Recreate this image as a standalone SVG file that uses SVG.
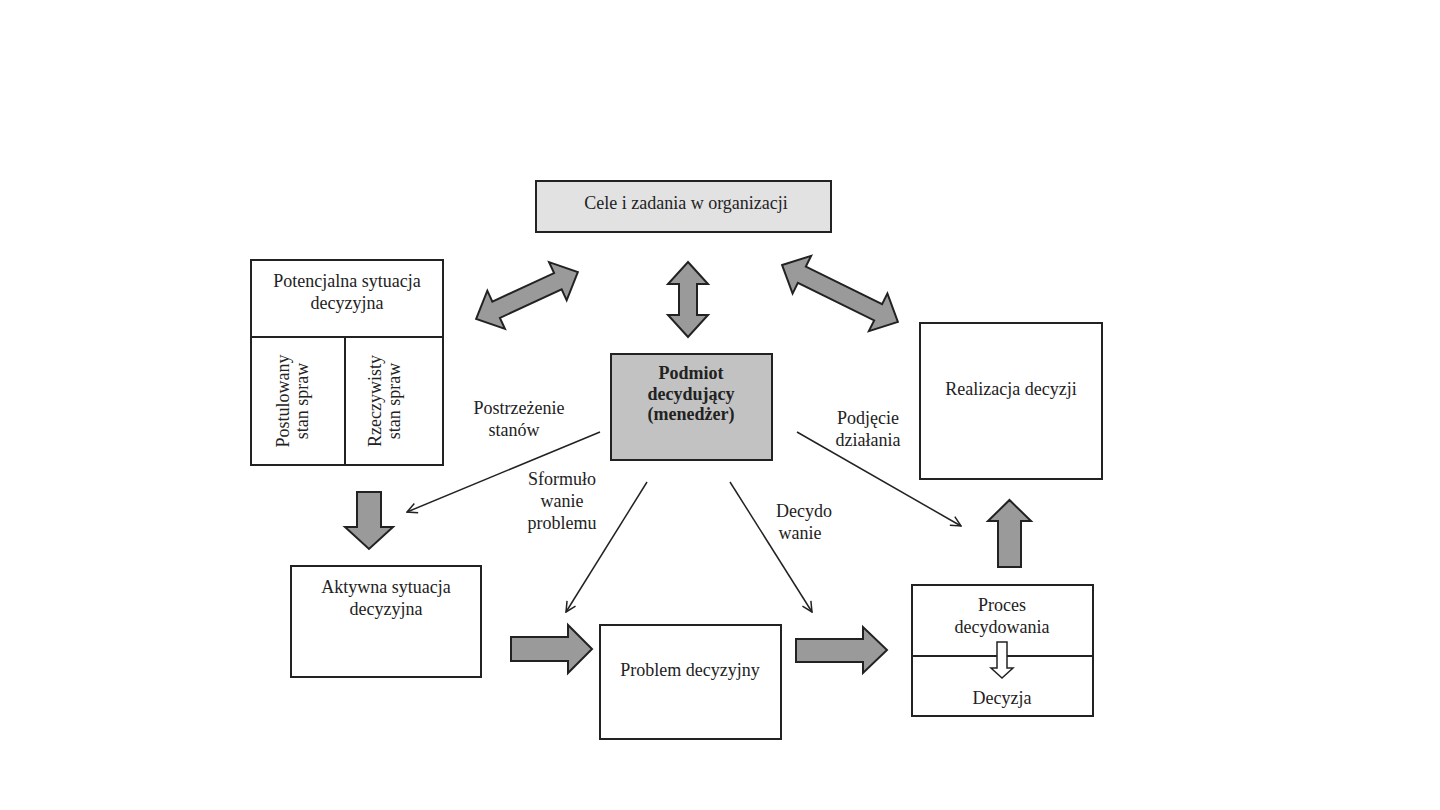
<svg xmlns="http://www.w3.org/2000/svg" width="1440" height="810" viewBox="0 0 1440 810">
<defs>
<style>
.box{fill:#ffffff;stroke:#222;stroke-width:2}
.t{font-family:"Liberation Serif","Times New Roman",serif;font-size:18px;fill:#222;text-anchor:middle}
.b{font-weight:bold;font-size:18px}
.blk{fill:#9a9a9a;stroke:#222;stroke-width:2;stroke-linejoin:miter}
.thin{stroke:#222;stroke-width:1.5;fill:none}
</style>
<marker id="open" viewBox="0 0 12 12" refX="11" refY="6" markerWidth="12" markerHeight="12" markerUnits="userSpaceOnUse" orient="auto">
<path d="M1,1 L11,6 L1,11" fill="none" stroke="#222" stroke-width="1.5"/>
</marker>
</defs>
<rect width="1440" height="810" fill="#ffffff"/>

<g id="cele">
<rect x="536" y="181" width="295" height="51" class="box" style="fill:#e2e2e2"/>
<text class="t" x="686" y="209">Cele i zadania w organizacji</text>
</g>

<g id="potencjalna">
<rect x="251" y="260" width="192" height="205" class="box"/>
<line x1="251" y1="337" x2="443" y2="337" stroke="#222" stroke-width="2"/>
<line x1="345" y1="337" x2="345" y2="465" stroke="#222" stroke-width="2"/>
<text class="t" x="347" y="287">Potencjalna sytuacja</text>
<text class="t" x="347" y="309">decyzyjna</text>
<text class="t" transform="translate(289,401) rotate(-90)">Postulowany</text>
<text class="t" transform="translate(308,401) rotate(-90)">stan spraw</text>
<text class="t" transform="translate(381,401) rotate(-90)">Rzeczywisty</text>
<text class="t" transform="translate(400,401) rotate(-90)">stan spraw</text>
</g>

<g id="podmiot">
<rect x="611" y="354" width="161" height="106" class="box" style="fill:#c2c2c2"/>
<text class="t b" x="691" y="379">Podmiot</text>
<text class="t b" x="691" y="400">decydujący</text>
<text class="t b" x="691" y="420">(menedżer)</text>
</g>

<g id="realizacja">
<rect x="920" y="323" width="182" height="156" class="box"/>
<text class="t" x="1011" y="395">Realizacja decyzji</text>
</g>

<g id="aktywna">
<rect x="291" y="566" width="190" height="111" class="box"/>
<text class="t" x="386" y="593">Aktywna sytuacja</text>
<text class="t" x="386" y="615">decyzyjna</text>
</g>

<g id="problem">
<rect x="600" y="625" width="181" height="114" class="box"/>
<text class="t" x="690" y="676">Problem decyzyjny</text>
</g>

<g id="proces">
<rect x="912" y="585" width="181" height="131" class="box"/>
<line x1="912" y1="656" x2="1093" y2="656" stroke="#222" stroke-width="2"/>
<text class="t" x="1002" y="611">Proces</text>
<text class="t" x="1002" y="633">decydowania</text>
<path d="M997,642 H1007 V668 H1013 L1002,678 L991,668 H997 Z" fill="#ffffff" stroke="#222" stroke-width="1.5"/>
<text class="t" x="1002" y="704">Decyzja</text>
</g>

<g id="connectors">
<path class="blk" transform="translate(527,295.5) rotate(-24.8)" d="M-56,0 L-34,-21 L-34,-9 L34,-9 L34,-21 L56,0 L34,21 L34,9 L-34,9 L-34,21 Z"/>
<path class="blk" transform="translate(688,299.5) rotate(90)" d="M-37.5,0 L-15.5,-20 L-15.5,-9 L15.5,-9 L15.5,-20 L37.5,0 L15.5,20 L15.5,9 L-15.5,9 L-15.5,20 Z"/>
<path class="blk" transform="translate(840,293.5) rotate(26.2)" d="M-64.5,0 L-42.5,-21 L-42.5,-9 L42.5,-9 L42.5,-21 L64.5,0 L42.5,21 L42.5,9 L-42.5,9 L-42.5,21 Z"/>
<path class="blk" d="M357,492 H381 V527 H393 L369,549 L345,527 H357 Z"/>
<path class="blk" d="M511,637 H568 V625 L592,649 L568,673 V661 H511 Z"/>
<path class="blk" d="M796,639 H863 V627 L887,650 L863,673 V662 H796 Z"/>
<path class="blk" d="M998,567 V521 H988 L1009.5,500 L1031,521 H1021 V567 Z"/>
<line class="thin" x1="600" y1="432" x2="407" y2="512" marker-end="url(#open)"/>
<line class="thin" x1="647" y1="482" x2="566" y2="612" marker-end="url(#open)"/>
<line class="thin" x1="730" y1="482" x2="812" y2="612" marker-end="url(#open)"/>
<line class="thin" x1="797" y1="432" x2="961" y2="526" marker-end="url(#open)"/>
</g>

<g id="labels">
<text class="t" x="519" y="414">Postrzeżenie</text>
<text class="t" x="514" y="436">stanów</text>
<text class="t" x="562" y="485">Sformuło</text>
<text class="t" x="562" y="507">wanie</text>
<text class="t" x="562" y="529">problemu</text>
<text class="t" x="804" y="517">Decydo</text>
<text class="t" x="800" y="539">wanie</text>
<text class="t" x="868" y="424">Podjęcie</text>
<text class="t" x="868" y="446">działania</text>
</g>
</svg>
